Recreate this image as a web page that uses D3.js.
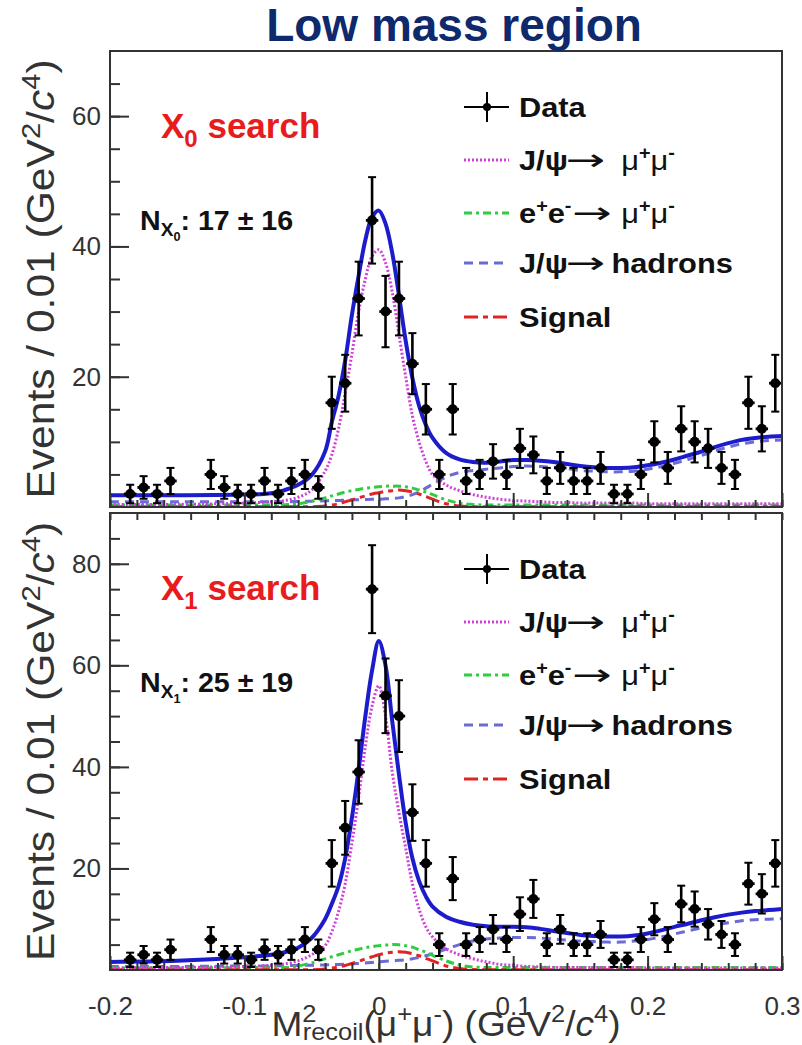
<!DOCTYPE html>
<meta charset="utf-8">
<style>
body { margin: 0; background: #fff; }
text { font-family: "Liberation Sans", Arial, sans-serif; }
.axis text { font-size: 26px; fill: #333; }
.axis path { display: none; }
.axis line { stroke: #333; stroke-width: 2; }
.legend text { font-size: 28px; font-weight: bold; fill: #111; }
.legend .arrow { font-family: "DejaVu Sans", sans-serif; font-weight: normal; font-size: 30px; }
.legend .mu { font-weight: normal; }
</style>
<svg width="802" height="1045"></svg>
<script src="https://cdn.jsdelivr.net/npm/d3@7/dist/d3.min.js"></script>
<script>

// bins of 0.01 GeV^2/c^4 from -0.2 to 0.3
var binCenters = [-0.195,-0.185,-0.175,-0.165,-0.155,-0.145,-0.135,-0.125,-0.115,-0.105,
                  -0.095,-0.085,-0.075,-0.065,-0.055,-0.045,-0.035,-0.025,-0.015,-0.005,
                   0.005, 0.015, 0.025, 0.035, 0.045, 0.055, 0.065, 0.075, 0.085, 0.095,
                   0.105, 0.115, 0.125, 0.135, 0.145, 0.155, 0.165, 0.175, 0.185, 0.195,
                   0.205, 0.215, 0.225, 0.235, 0.245, 0.255, 0.265, 0.275, 0.285, 0.295];

var countsX0 = [0,2,3,2,4,0,0,5,3,2, 2,4,2,4,5,3,16,19,32,44, 30,32,22,15,5,15,4,5,7,5,
                9,8,4,6,4,4,6,2,2,5, 10,6,12,10,9,6,5,16,12,19];
var countsX1 = [0,2,3,2,4,0,0,6,3,3, 2,4,3,4,6,4,21,28,39,75, 54,50,31,21,5,18,5,6,8,6,
                11,14,5,8,5,5,7,2,2,6, 10,6,13,12,9,7,5,17,15,21];

// fit curves, sampled off the figure
var curveX = [-0.20,-0.15,-0.10,-0.08,-0.07,-0.06,-0.05,-0.04,-0.035,-0.03,
              -0.025,-0.02,-0.015,-0.01,-0.005,0.00,0.005,0.01,0.015,0.02,
               0.025,0.03,0.035,0.04,0.05,0.06,0.07,0.08,0.09,0.10,
               0.11,0.12,0.13,0.14,0.15,0.16,0.17,0.18,0.19,0.20,
               0.21,0.22,0.23,0.24,0.25,0.26,0.27,0.28,0.29,0.30];

var totalX0 = [1.8,1.8,1.9,2.1,2.6,3.4,4.9,8.5,13,17, 22.5,29.5,35.5,41,44.5,45.5,43.5,39,32.5,25.5,
               19.8,15.5,12.6,10.6,8.3,7.3,6.9,6.8,7.0,7.2, 7.2,7.1,6.9,6.6,6.3,6.1,6.0,6.0,6.1,6.4,
               6.8,7.3,7.9,8.5,9.2,9.8,10.3,10.6,10.8,10.9];
var jpsiMuMuX0 = [0.4,0.4,0.6,0.8,1.0,1.5,2.6,5.5,8,12, 17.5,23.5,30,35,38.5,39.5,37.5,33,26.5,20,
                  14,10,7,5,3.4,2.5,1.9,1.5,1.2,1.0, 0.9,0.8,0.7,0.7,0.6,0.6,0.6,0.6,0.6,0.5,
                  0.5,0.5,0.5,0.5,0.5,0.5,0.5,0.5,0.5,0.5];
var eeMuMuX0 = [0.3,0.3,0.3,0.3,0.35,0.5,0.9,1.4,1.7,2.0, 2.3,2.5,2.7,2.9,3.0,3.1,3.2,3.2,3.2,3.1,
                2.9,2.6,2.3,1.9,1.1,0.6,0.4,0.3,0.3,0.3, 0.3,0.3,0.3,0.3,0.3,0.3,0.3,0.3,0.3,0.3,
                0.3,0.3,0.3,0.3,0.3,0.3,0.3,0.3,0.3,0.3];
var jpsiHadX0 = [0.8,0.8,0.8,0.8,0.8,0.85,0.9,0.95,1.0,1.0, 1.05,1.1,1.1,1.15,1.2,1.2,1.25,1.3,1.4,1.6,
                 1.9,2.3,2.9,3.5,4.6,5.3,5.6,5.8,6.0,6.2, 6.3,6.2,6.1,5.9,5.6,5.5,5.4,5.4,5.5,5.8,
                 6.2,6.7,7.3,7.9,8.6,9.2,9.7,10.0,10.2,10.3];
var signalX0 = [0.05,0.05,0.05,0.05,0.05,0.05,0.05,0.15,0.3,0.5, 0.8,1.1,1.4,1.7,2.0,2.2,2.4,2.5,2.6,2.5,
                2.3,2.0,1.6,1.2,0.5,0.15,0.05,0.05,0.05,0.05, 0.05,0.05,0.05,0.05,0.05,0.05,0.05,0.05,0.05,0.05,
                0.05,0.05,0.05,0.05,0.05,0.05,0.05,0.05,0.05,0.05];

var totalX1 = [1.6,1.8,2.5,3.0,3.5,4.4,6.3,10,13,16.5, 22,30,39.5,50,59,64.8,60,49,38.5,29,
               22,17.5,14.5,12.5,10.5,9.5,8.9,8.6,8.5,8.5, 8.4,8.1,7.7,7.3,6.9,6.7,6.6,6.6,6.8,7.2,
               7.8,8.5,9.1,9.8,10.4,10.9,11.3,11.6,11.8,12.0];
var jpsiMuMuX1 = [0.4,0.5,0.7,0.9,1.2,1.8,3.0,4.8,7.5,11.5, 17,25,34,44,52,56,50,39,31,24,
                  17,12,8.5,6.5,4.2,3.0,2.2,1.6,1.1,0.9, 0.7,0.6,0.5,0.5,0.5,0.5,0.5,0.5,0.5,0.4,
                  0.4,0.4,0.4,0.4,0.4,0.4,0.4,0.4,0.4,0.4];
var eeMuMuX1 = [0.4,0.4,0.45,0.5,0.5,0.8,1.4,2.2,2.6,3.0, 3.4,3.8,4.1,4.4,4.6,4.8,4.9,5.0,4.95,4.8,
                4.5,4.0,3.5,2.9,1.8,1.0,0.6,0.5,0.5,0.5, 0.5,0.5,0.5,0.5,0.5,0.5,0.5,0.5,0.5,0.5,
                0.5,0.5,0.5,0.5,0.5,0.5,0.5,0.5,0.5,0.5];
var jpsiHadX1 = [0.7,0.7,0.8,0.8,0.85,0.9,0.95,1.0,1.05,1.1, 1.15,1.2,1.3,1.4,1.5,1.6,1.7,1.8,1.9,2.0,
                 2.2,2.5,2.8,3.2,4.1,5.0,5.7,6.1,6.3,6.4, 6.4,6.3,6.1,5.9,5.7,5.6,5.5,5.5,5.7,6.0,
                 6.5,7.1,7.7,8.3,8.9,9.3,9.7,9.9,10.0,10.1];
var signalX1 = [0.05,0.05,0.05,0.05,0.05,0.05,0.05,0.2,0.4,0.6, 0.9,1.3,1.7,2.2,2.6,3.0,3.3,3.5,3.6,3.5,
                3.2,2.8,2.3,1.8,0.8,0.3,0.1,0.05,0.05,0.05, 0.05,0.05,0.05,0.05,0.05,0.05,0.05,0.05,0.05,0.05,
                0.05,0.05,0.05,0.05,0.05,0.05,0.05,0.05,0.05,0.05];

var xTicks = [-0.2,-0.1,0,0.1,0.2,0.3];
var xTickLabels = ["-0.2","-0.1","0","0.1","0.2","0.3"];
var yTicksX0 = [20,40,60];
var yTicksX1 = [20,40,60,80];
var yieldsText = ["17 \u00b1 16","25 \u00b1 19"];
var searchIdx = ["0","1"];

var svg = d3.select("svg");
var left = 110, right = 782;

var x = d3.scaleLinear().domain([-0.2,0.3]).range([left,right]);

var panels = [
  {top:51,  bottom:507, ymax:70, ticks:yTicksX0, counts:countsX0,
   curves:[jpsiHadX0,eeMuMuX0,signalX0,jpsiMuMuX0,totalX0], topTicks:false},
  {top:513, bottom:970, ymax:90, ticks:yTicksX1, counts:countsX1,
   curves:[jpsiHadX1,eeMuMuX1,signalX1,jpsiMuMuX1,totalX1], topTicks:true}
];

var styles = [
  {color:"#6b6bd6", dash:"9,6",      width:3},   // J/psi -> hadrons
  {color:"#2ecc40", dash:"8,4,3,4",  width:3},   // ee -> mumu
  {color:"#e02424", dash:"14,5,5,5", width:3},   // signal
  {color:"#d040d8", dash:"2,2",      width:3},   // J/psi -> mumu
  {color:"#1c1ccc", dash:null,       width:4}    // total
];

var xMinor = d3.range(0, 26).map(function(i){ return -0.2 + i*0.02; });

function supSub(t, txt, size, dy) {
  t.append("tspan").attr("font-size", size).attr("dy", dy).text(txt);
}

function arrow(sel, ax, len, base) {
  sel.append("text").attr("class","arrow").attr("x",ax).attr("y",base)
    .attr("textLength",len).attr("lengthAdjust","spacingAndGlyphs").text("\u2192");
}

panels.forEach(function(p, pi) {
  var y = d3.scaleLinear().domain([0,p.ymax]).range([p.bottom,p.top]);
  var g = svg.append("g");

  var clipId = "clip" + pi;
  svg.append("clipPath").attr("id", clipId)
    .append("rect").attr("x", left).attr("y", p.top)
    .attr("width", right-left).attr("height", p.bottom-p.top);

  // curves
  var line = d3.line()
    .x(function(d){ return x(d[0]); })
    .y(function(d){ return y(d[1]); })
    .curve(d3.curveCatmullRom.alpha(0.5));

  var cg = g.append("g").attr("clip-path","url(#"+clipId+")");
  p.curves.forEach(function(vals, ci) {
    var s = styles[ci];
    cg.append("path")
      .datum(curveX.map(function(v,k){ return [v, vals[k]]; }))
      .attr("d", line)
      .attr("fill","none")
      .attr("stroke", s.color)
      .attr("stroke-width", s.width)
      .attr("stroke-dasharray", s.dash);
  });

  // data points with sqrt(N) errors
  var pts = binCenters.map(function(c,k){ return {x:c, n:p.counts[k]}; })
    .filter(function(d){ return d.n > 0; });
  var dg = g.append("g").attr("clip-path","url(#"+clipId+")");
  var pt = dg.selectAll("g").data(pts).enter().append("g");
  pt.append("line")
    .attr("x1", function(d){ return x(d.x); }).attr("x2", function(d){ return x(d.x); })
    .attr("y1", function(d){ return y(d.n + Math.sqrt(d.n)); })
    .attr("y2", function(d){ return y(Math.max(0, d.n - Math.sqrt(d.n))); })
    .attr("stroke","#000").attr("stroke-width",2.6);
  [1,-1].forEach(function(sg){
    pt.append("line")
      .attr("x1", function(d){ return x(d.x)-4; }).attr("x2", function(d){ return x(d.x)+4; })
      .attr("y1", function(d){ return y(Math.max(0, d.n + sg*Math.sqrt(d.n))); })
      .attr("y2", function(d){ return y(Math.max(0, d.n + sg*Math.sqrt(d.n))); })
      .attr("stroke","#000").attr("stroke-width",2);
  });
  pt.append("line")
    .attr("x1", function(d){ return x(d.x-0.005)+0.5; }).attr("x2", function(d){ return x(d.x+0.005)-0.5; })
    .attr("y1", function(d){ return y(d.n); }).attr("y2", function(d){ return y(d.n); })
    .attr("stroke","#000").attr("stroke-width",2.8);
  pt.append("circle")
    .attr("cx", function(d){ return x(d.x); }).attr("cy", function(d){ return y(d.n); })
    .attr("r", 5).attr("fill","#000");

  // axes
  var minorY = d3.range(5, p.ymax, 5);
  g.append("g").attr("class","axis").attr("transform","translate("+left+",0)")
    .call(d3.axisLeft(y).tickValues(minorY).tickSize(-10).tickFormat(""));
  g.append("g").attr("class","axis").attr("transform","translate("+left+",0)")
    .call(d3.axisLeft(y).tickValues(p.ticks).tickSize(-19).tickPadding(9).tickFormat(d3.format("d")));

  g.append("g").attr("class","axis").attr("transform","translate(0,"+p.bottom+")")
    .call(d3.axisBottom(x).tickValues(xMinor).tickSize(-7).tickFormat(""));
  g.append("g").attr("class","axis").attr("transform","translate(0,"+p.bottom+")")
    .call(d3.axisBottom(x).tickValues(xTicks).tickSize(-14).tickPadding(27)
      .tickFormat(function(d,i){ return pi === 1 ? xTickLabels[i] : ""; }));
  if (p.topTicks) {
    g.append("g").attr("class","axis").attr("transform","translate(0,"+p.top+")")
      .call(d3.axisTop(x).tickValues(xMinor).tickSize(-7).tickFormat(""));
  }

  // frame
  g.append("rect").attr("x",left).attr("y",p.top)
    .attr("width",right-left).attr("height",p.bottom-p.top)
    .attr("fill","none").attr("stroke","#333").attr("stroke-width",2);

  // search label
  var st = g.append("text").attr("x",161).attr("y",p.top+87)
    .attr("fill","#e81c1c").attr("font-weight","bold").attr("font-size",35);
  st.append("tspan").text("X");
  supSub(st, searchIdx[pi], 24, 9);
  st.append("tspan").attr("dy",-9).text(" search");

  // yield label
  var nt = g.append("text")
    .attr("transform","translate(140,"+(p.top+179)+") scale(1.06,1)")
    .attr("fill","#111").attr("font-weight","bold").attr("font-size",27);
  nt.append("tspan").text("N");
  supSub(nt, "X", 18, 6);
  supSub(nt, searchIdx[pi], 12, 5);
  nt.append("tspan").attr("dy",-11).text(": " + yieldsText[pi]);

  // legend
  var lg = g.append("g").attr("class","legend");
  var rows = [56,109,162,212,266];
  var legStyle = [null, styles[3], styles[1], styles[0], styles[2]];
  rows.forEach(function(ry, ri){
    var yy = p.top + ry, base = yy + 10;
    if (ri === 0) {
      lg.append("line").attr("x1",464).attr("x2",509).attr("y1",yy).attr("y2",yy)
        .attr("stroke","#000").attr("stroke-width",2);
      lg.append("line").attr("x1",487).attr("x2",487).attr("y1",yy-15).attr("y2",yy+15)
        .attr("stroke","#000").attr("stroke-width",2);
      lg.append("circle").attr("cx",487).attr("cy",yy).attr("r",4).attr("fill","#000");
    } else {
      var s = legStyle[ri];
      lg.append("line").attr("x1",464).attr("x2",509).attr("y1",yy).attr("y2",yy)
        .attr("stroke",s.color).attr("stroke-width",3).attr("stroke-dasharray",s.dash);
    }
    // text, stretched a little sideways like the original font
    var rg = lg.append("g").attr("transform","translate(519,0) scale(1.1,1)");
    if (ri === 0) rg.append("text").attr("x",0).attr("y",base).text("Data");
    if (ri === 1 || ri === 3) {
      rg.append("text").attr("x",0).attr("y",base).text("J/\u03c8");
      arrow(rg, 42, 36, base);
    }
    if (ri === 2) {
      var e = rg.append("text").attr("x",0).attr("y",base);
      e.append("tspan").text("e");
      supSub(e, "+", 18, -11);
      e.append("tspan").attr("dy",11).text("e");
      supSub(e, "-", 18, -11);
      arrow(rg, 48, 36, base);
    }
    if (ri === 1 || ri === 2) {
      var m = rg.append("text").attr("x",93).attr("y",base);
      m.append("tspan").attr("class","mu").text("\u03bc");
      supSub(m, "+", 18, -11);
      m.append("tspan").attr("class","mu").attr("dy",11).text("\u03bc");
      supSub(m, "-", 18, -11);
    }
    if (ri === 3) rg.append("text").attr("x",84).attr("y",base).text("hadrons");
    if (ri === 4) rg.append("text").attr("x",0).attr("y",base).text("Signal");
  });

  // y title
  var yt = svg.append("text")
    .attr("transform","translate(54,"+(p.top+p.bottom)/2+") rotate(-90) scale(1.12,1)")
    .attr("text-anchor","middle").attr("font-size",38).attr("fill","#333");
  yt.append("tspan").text("Events / 0.01 (GeV");
  supSub(yt, "2", 26, -14);
  yt.append("tspan").attr("dy",14).text("/");
  yt.append("tspan").attr("font-style","italic").text("c");
  supSub(yt, "4", 26, -14);
  yt.append("tspan").attr("dy",14).text(")");
});

// x title
var xt = svg.append("text").attr("transform","translate(446,1036) scale(1.06,1)")
  .attr("text-anchor","middle").attr("font-size",35).attr("fill","#333");
xt.append("tspan").text("M");
supSub(xt, "2", 24, -14);
xt.append("tspan").attr("font-size",24).attr("dx",-13).attr("dy",18).text("recoil");
xt.append("tspan").attr("dy",-4).text("(\u03bc");
supSub(xt, "+", 24, -14);
xt.append("tspan").attr("dy",14).text("\u03bc");
supSub(xt, "-", 24, -14);
xt.append("tspan").attr("dy",14).text(") (GeV");
supSub(xt, "2", 24, -14);
xt.append("tspan").attr("dy",14).text("/");
xt.append("tspan").attr("font-style","italic").text("c");
supSub(xt, "4", 24, -14);
xt.append("tspan").attr("dy",14).text(")");

// title
svg.append("text").attr("x",454).attr("y",41).attr("text-anchor","middle")
  .attr("font-size",46).attr("font-weight","bold").attr("fill","#0e2a6c")
  .text("Low mass region");

</script>
